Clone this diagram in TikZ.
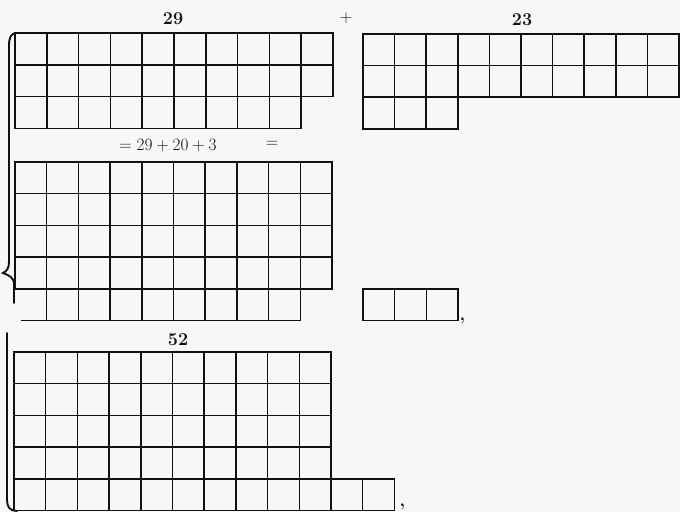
\documentclass[tikz,border=0pt]{standalone}
\usepackage{tikz}
\definecolor{inkblack}{HTML}{111111}
\definecolor{paper}{HTML}{F7F7F5}
\tikzset{
  cellline/.style={draw=inkblack, line width=1.5pt, line cap=rect},
  bracketline/.style={draw=inkblack, line width=1.9pt, line cap=round},
  sumlabel/.style={text=inkblack, font=\bfseries\fontsize{18}{20}\selectfont},
  eqlabel/.style={text=inkblack, font=\fontsize{18}{20}\selectfont},
}
\newcommand{\cellgrid}[4]{
  \begin{scope}[shift={#1}, x=#2, y=-#2]
    \foreach \r in {0,...,#4} \draw[cellline] (0,\r) -- (#3,\r);
    \foreach \c in {0,...,#3} \draw[cellline] (\c,0) -- (\c,#4);
  \end{scope}
}

\begin{document}
\begin{tikzpicture}[x=1pt,y=-1pt]
\useasboundingbox (0,0) rectangle (680,512);
\fill[paper] (0,0) rectangle (680,512);

\node[sumlabel] (lab29) at (173,19) {29};
\node[eqlabel] (plus) at (346,18) {$+$};
\node[sumlabel] (lab23) at (522,20) {23};
\cellgrid{(15,33)}{31.8pt}{10}{2}
\cellgrid{(15,96.6)}{31.8pt}{9}{1}
\cellgrid{(363,34)}{31.6pt}{10}{2}
\cellgrid{(363,97.2)}{31.6pt}{3}{1}

\node[eqlabel] (eqsum) at (168,145) {$=29+20+3$};
\node[eqlabel] (eqmark) at (272,144) {$=$};
\cellgrid{(15,162)}{31.7pt}{10}{4}
\begin{scope}[shift={(15,288.8)}, x=31.7pt, y=-31.7pt]
  \foreach \c in {1,...,9} \draw[cellline] (\c,0) -- (\c,1);
  \draw[cellline] (0.22,1) -- (9,1);
\end{scope}
\cellgrid{(363,289)}{31.7pt}{3}{1}
\node[sumlabel, anchor=west] (comma1) at (456,321) {,};

\node[sumlabel] (lab52) at (178,340) {52};
\cellgrid{(14,352)}{31.7pt}{10}{4}
\cellgrid{(14,478.8)}{31.7pt}{12}{1}
\node[sumlabel, anchor=west] (comma2) at (396,507) {,};

\draw[bracketline] (17,33) .. controls (11,33) and (9,37) .. (9,46) -- (9,262)
  .. controls (9,268) and (7,271) .. (3,273) .. controls (8,275) and (14,277) .. (14,284) -- (14,303);
\draw[bracketline] (7,333) -- (7,500) .. controls (7,507) and (10,511) .. (17,511);
\end{tikzpicture}
\end{document}
